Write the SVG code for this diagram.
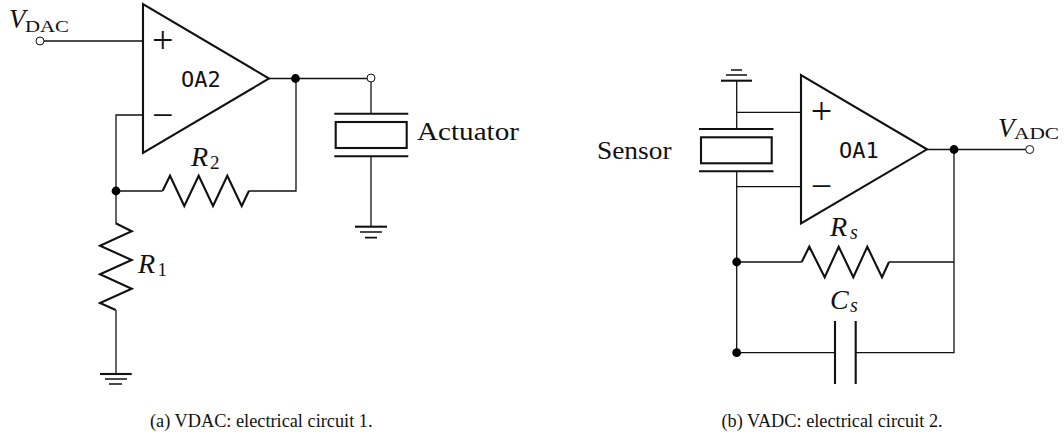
<svg xmlns="http://www.w3.org/2000/svg" width="1064" height="435" viewBox="0 0 1064 435">
<style>
text{font-family:"Liberation Serif","Times New Roman",serif;fill:#111}
.w{fill:none;stroke:#111;stroke-width:1.3;stroke-linejoin:miter}
.t{fill:none;stroke:#111;stroke-width:2.1;stroke-linejoin:miter}
.tt{fill:#fff;stroke:#111;stroke-width:2.1}
.p{stroke:#111;stroke-width:2.1}
.p2{stroke:#111;stroke-width:1.6}
.d{fill:#000}
.o{fill:#fff;stroke:#111;stroke-width:1}
.i{font-style:italic;font-size:27px}
.ii{font-style:italic;font-size:28px}
.s{font-size:17.5px}
.n{font-size:19px}
.sub{font-style:italic;font-size:20px}
.r{font-size:25px}
.m{font-family:"DejaVu Sans Mono","Liberation Mono",monospace;font-size:22px}
.sym{font-size:38px}
.c{font-size:18.300px}
</style>
<g id="connectors">
<path class="w" d="M44 41H143"/>
<path class="w" d="M143 115H116V223.300"/>
<path class="w" d="M116 191H162.700"/>
<path class="w" d="M249 191H296V78.500"/>
<path class="w" d="M269 78.500H367"/>
<path class="w" d="M371 82V113.700"/>
<path class="w" d="M371 156.300V226.700"/>
<path class="w" d="M116 310V374"/>
<path class="w" d="M736.700 80.700V129"/>
<path class="w" d="M736.700 112.300H801"/>
<path class="w" d="M736.700 171.300V352.700"/>
<path class="w" d="M736.700 186.700H801"/>
<path class="w" d="M736.700 262H801.700"/>
<path class="w" d="M889 262H954"/>
<path class="w" d="M927 149.500H1026"/>
<path class="w" d="M954 149.500V352.700H855.700"/>
<path class="w" d="M736.700 352.700H835"/>
</g>
<g id="OA2">
<path class="tt" d="M143 4V153L269 78.500Z"/>
<text class="sym" x="152" y="53.400">+</text>
<text class="sym" x="152" y="127.700">−</text>
<text class="m" x="181" y="87">OA2</text>
</g>
<g id="OA1">
<path class="tt" d="M801 75V223.500L927 149.300Z"/>
<text class="sym" x="810.700" y="124">+</text>
<text class="sym" x="810.700" y="198.700">−</text>
<text class="m" x="839" y="158">OA1</text>
</g>
<g id="VDAC"><circle class="o" cx="40" cy="41" r="4"/><text class="i" x="9" y="28">V</text><text class="s" x="25" y="32" textLength="44" lengthAdjust="spacingAndGlyphs">DAC</text></g>
<g id="VOUT2"><circle class="o" cx="371" cy="78" r="4"/></g>
<g id="VADC"><circle class="o" cx="1029.700" cy="149.500" r="4"/><text class="i" x="998" y="136.500">V</text><text class="s" x="1014" y="139" textLength="45" lengthAdjust="spacingAndGlyphs">ADC</text></g>
<g id="junctions">
<circle class="d" cx="295.500" cy="78.500" r="4.400"/>
<circle class="d" cx="116" cy="191" r="4.400"/>
<circle class="d" cx="954" cy="149.500" r="4.400"/>
<circle class="d" cx="736.700" cy="262" r="4.400"/>
<circle class="d" cx="736.700" cy="352.700" r="4.400"/>
</g>
<g id="R2"><path class="t" d="M162.700 190.700L170 175.700L184.300 206L198.700 175.700L213 206L227.300 175.700L241.700 206L249 190.700"/><text class="ii" x="191" y="165.500">R</text><text class="n" x="210" y="169">2</text></g>
<g id="R1"><path class="t" d="M115.700 223.300L131.700 231.300L100 245.700L131.700 260L100 274.300L131.700 288.700L100 303L115.700 310"/><text class="ii" x="138" y="272.500">R</text><text class="n" x="157.500" y="276">1</text></g>
<g id="Rs"><path class="t" d="M801.700 262L809.300 246.700L824.700 277.300L838.700 246.700L853.300 277.300L867.300 246.700L882 277.300L889 262"/><text class="ii" x="830" y="235.500">R</text><text class="sub" x="850" y="239">s</text></g>
<g id="Cs"><path class="p" d="M835 321V384M855.700 321V384"/><text class="ii" x="830" y="309">C</text><text class="sub" x="850" y="312">s</text></g>
<g id="Actuator"><path class="p" d="M334.300 113.700H408.300"/><rect class="t" x="335.700" y="122" width="71" height="26"/><path class="p" d="M334.300 156.300H408.300"/><text class="r" x="417" y="140" textLength="102" lengthAdjust="spacingAndGlyphs">Actuator</text></g>
<g id="Sensor"><path class="p" d="M699 129H773.500"/><rect class="t" x="701" y="137.300" width="70.700" height="26"/><path class="p" d="M699 171.300H773.500"/><text class="r" x="597" y="158.500" textLength="74.500" lengthAdjust="spacingAndGlyphs">Sensor</text></g>
<g id="gnd1"><path class="p" d="M100 374H131.700"/><path class="p2" d="M105 379H127M109 384H122"/></g>
<g id="gnd2"><path class="p" d="M355 226.700H387"/><path class="p2" d="M360 232H382M365 237.600H377"/></g>
<g id="gnd3"><path class="p" d="M721 80.700H752"/><path class="p2" d="M726 75H747M731 70H742"/></g>
<g id="captions"><text class="c" x="150" y="426.500">(a) VDAC: electrical circuit 1.</text><text class="c" x="721.500" y="426.500">(b) VADC: electrical circuit 2.</text></g>
</svg>
